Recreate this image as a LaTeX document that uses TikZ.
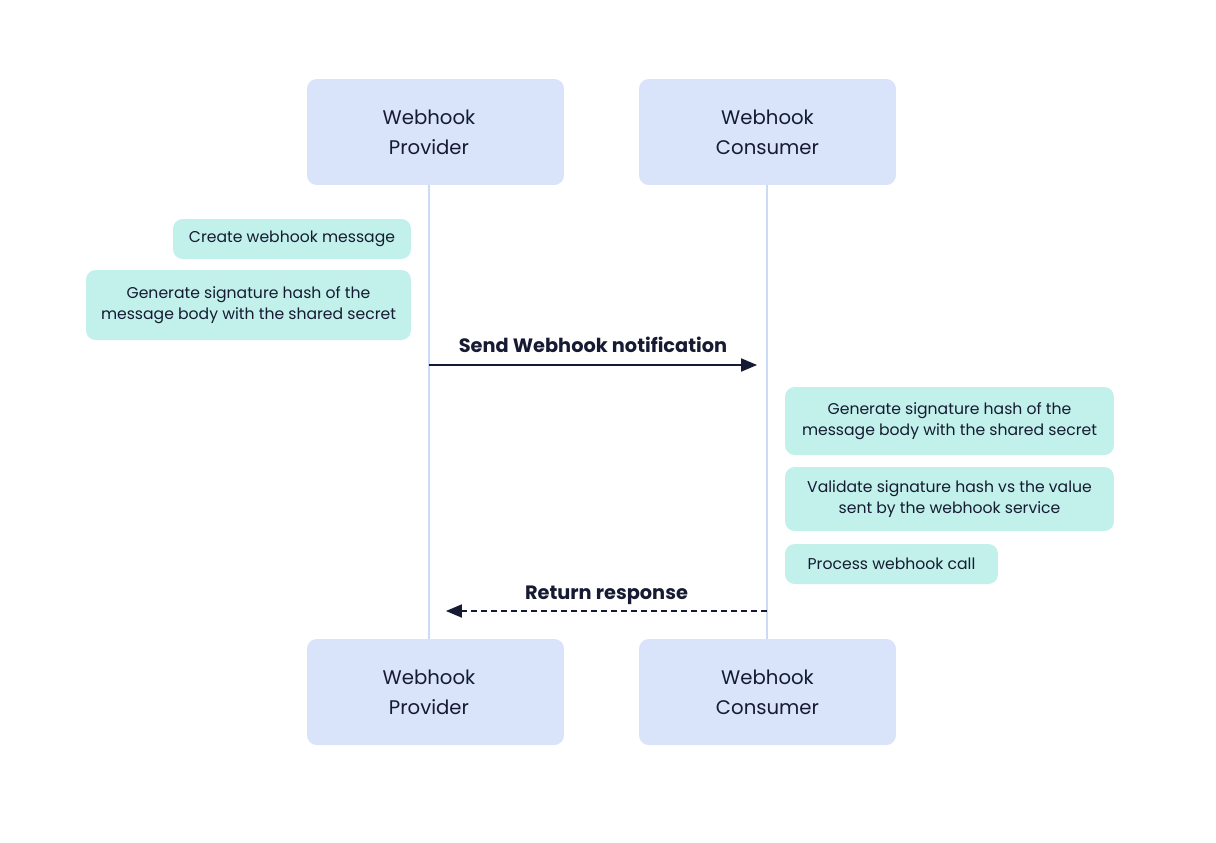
\documentclass[tikz,border=0pt]{standalone}
\usepackage{fontspec}
\setmainfont{Poppins}
\usetikzlibrary{arrows}
\definecolor{actorfill}{HTML}{D9E4FB}
\definecolor{notefill}{HTML}{C1F1EA}
\definecolor{lifecol}{HTML}{CCD9F7}
\definecolor{ink}{HTML}{161B33}

\begin{document}
\begin{tikzpicture}[x=0.02cm, y=-0.02cm,
    actor/.style={fill=actorfill, rounded corners=5.5pt, align=center, text=ink,
        minimum width=5.14cm, minimum height=2.12cm, font=\fontsize{11.2}{17}\selectfont},
    note/.style={fill=notefill, rounded corners=5.5pt, align=center, text=ink,
        font=\fontsize{8.9}{12}\selectfont},
    lifeline/.style={draw=lifecol, line width=0.9pt},
    msg/.style={draw=ink, line width=1.1pt, -triangle 45},
    msglabel/.style={font=\fontsize{11}{12}\bfseries, text=ink}
]
\useasboundingbox (0,0) rectangle (1216,842);
% participants
\node[actor] (provTop) at (435.5,132) {\hspace*{-0.26cm}Webhook\\\hspace*{-0.26cm}Provider};
\node[actor] (consTop) at (767.5,132) {Webhook\\Consumer};
\node[actor] (provBot) at (435.5,692) {\hspace*{-0.26cm}Webhook\\\hspace*{-0.26cm}Provider};
\node[actor] (consBot) at (767.5,692) {Webhook\\Consumer};
% lifelines
\draw[lifeline] ([xshift=-0.13cm]provTop.south) -- ([xshift=-0.13cm]provBot.north);
\draw[lifeline] ([xshift=-0.01cm]consTop.south) -- ([xshift=-0.01cm]consBot.north);
% provider side
\node[note, minimum width=4.76cm, minimum height=0.8cm] (create) at (292,239) {Create webhook message};
\node[note, minimum width=6.5cm, minimum height=1.4cm] (signA) at (248.5,305) {Generate signature hash of the\\message body with the shared secret};
% send
\coordinate (sendFrom) at (429,365);
\coordinate (sendTo) at (757,365);
\draw[msg] (sendFrom) -- node[msglabel, above=3pt] {Send Webhook notification} (sendTo);
% consumer side
\node[note, minimum width=6.58cm, minimum height=1.36cm] (signB) at (949.5,421) {Generate signature hash of the\\message body with the shared secret};
\node[note, minimum width=6.58cm, minimum height=1.28cm] (check) at (949.5,499) {Validate signature hash vs the value\\sent by the webhook service};
\node[note, minimum width=4.26cm, minimum height=0.8cm] (process) at (891.5,564) {Process webhook call};
% return
\coordinate (backFrom) at (767,611);
\coordinate (backTo) at (446,611);
\draw[msg, dashed, dash pattern=on 3.4pt off 2.3pt] (backFrom) -- node[msglabel, above=0pt] {Return response} (backTo);
\end{tikzpicture}
\end{document}
